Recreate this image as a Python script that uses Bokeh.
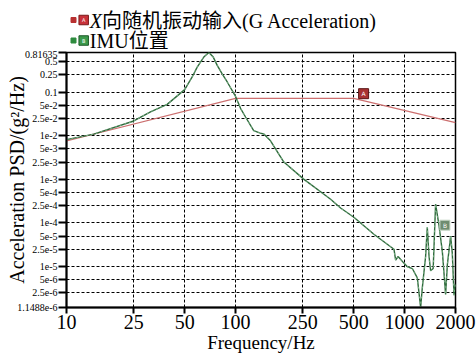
from bokeh.plotting import figure
from bokeh.layouts import column
from bokeh.models import Range1d, FixedTicker, ColumnDataSource
from bokeh.core.properties import value
from bokeh.embed import file_html
from bokeh.resources import INLINE

# ---- data ----
input_freq = [10, 100, 500, 2000]
input_psd = [0.0076, 0.072, 0.072, 0.020]

imu_freq = [10, 14.5, 25, 31.4, 39.4, 50, 55.4, 59.3, 64.9, 69.5, 73.8, 77.9, 83, 89.3, 100,
            107, 114.6, 128, 140, 147, 161, 193, 254, 365, 418, 501, 658, 865, 885,
            915, 990, 1035, 1111, 1189, 1244, 1270, 1331, 1362, 1395, 1425, 1476,
            1525, 1596, 1672, 1748, 1790, 1872, 1915, 1960, 2000]
imu_psd = [0.0082, 0.0109, 0.0219, 0.0356, 0.0527, 0.115, 0.224, 0.378, 0.64, 0.816, 0.64,
           0.413, 0.27, 0.172, 0.08, 0.0427, 0.027, 0.0131, 0.0115, 0.011, 0.0077,
           0.0025, 0.001, 3.5e-4, 2.2e-4, 1.35e-4, 5.5e-5, 2.5e-5, 1.4e-5, 1.7e-5,
           1.2e-5, 1.0e-5, 9e-6, 5.5e-6, 1.15e-6, 3e-6, 1.7e-5, 8e-5, 1.7e-5, 8e-6,
           9e-6, 2.7e-4, 9e-5, 2.2e-5, 2.3e-6, 1.1e-5, 5e-5, 2e-5, 2.2e-6, 4e-6]

marker_freq = [572, 1732]
marker_psd = [0.0927, 8.9e-5]
marker_text = ["A", "B"]
marker_fill = ["#a83232", "#6f8c70"]
marker_line = ["#5a1515", "#c8d8c8"]

x_ticks = [10, 25, 50, 100, 250, 500, 1000, 2000]
y_ticks = [1.1488e-6, 2.5e-6, 5e-6, 1e-5, 2.5e-5, 5e-5, 1e-4, 2.5e-4, 5e-4, 1e-3,
           2.5e-3, 5e-3, 1e-2, 2.5e-2, 5e-2, 0.1, 0.25, 0.5, 0.81635]
y_tick_labels = ["1.1488e-6", "2.5e-6", "5e-6", "1e-5", "2.5e-5", "5e-5", "1e-4",
                 "2.5e-4", "5e-4", "1e-3", "2.5e-3", "5e-3", "1e-2", "2.5e-2", "5e-2",
                 "0.1", "0.25", "0.5", "0.81635"]

legend_prefix = ["X", ""]
legend_names = ["向随机振动输入(G Acceleration)", "IMU位置"]
legend_letters = ["A", "B"]
legend_small = ["#b83030", "#2e8b3e"]
legend_box = ["#c8323a", "#3c9a4c"]
legend_box_line = ["#7a1a1a", "#1e5a28"]

SERIF = "Liberation Serif"
SERIF_CJK = "Liberation Serif, Noto Sans CJK SC"

FRAME_L, FRAME_R = 66, 455   # frame edges in page pixels (shared by both figures)

# ---------------- legend strip (pixel coordinates, y downwards) ----------------
LW, LH = 476, 50
leg = figure(width=LW, height=LH, x_range=Range1d(FRAME_L, FRAME_R), y_range=Range1d(LH, 0),
             x_axis_location=None, y_axis_location=None,
             output_backend="svg", toolbar_location=None,
             min_border_left=FRAME_L, min_border_right=LW - FRAME_R,
             min_border_top=0, min_border_bottom=0)
leg.grid.visible = False
leg.outline_line_color = None
row_y = [19.5, 40]
lsrc = ColumnDataSource(dict(
    xs=[73, 73], xb=[83.2, 83.2], y=row_y, sm=legend_small, bx=legend_box,
    bl=legend_box_line, let=legend_letters))
leg.scatter("xs", "y", source=lsrc, marker="square", size=5, fill_color="sm",
            line_color="sm")
leg.scatter("xb", "y", source=lsrc, marker="square", size=9.5, fill_color="bx",
            line_color="bl", line_width=1)
leg.text("xb", "y", text="let", source=lsrc, text_color="white", text_font_size="5px",
         text_align="center", text_baseline="middle", text_font=value("DejaVu Sans"))
leg.text([89.3], [row_y[0] + 1], text=[legend_prefix[0]], text_font=value(SERIF),
         text_font_style="italic", text_font_size="20px", text_color="black",
         text_align="left", text_baseline="middle")
leg.text([101.5, 89.3], [row_y[0] + 1, row_y[1]], text=legend_names,
         text_font=value(SERIF_CJK), text_font_size="20px", text_color="black",
         text_align="left", text_baseline="middle")

# ---------------- main plot ----------------
p = figure(width=476, height=355 - LH, x_axis_type="log", y_axis_type="log",
           x_range=Range1d(10, 2000), y_range=Range1d(1.1488e-6, 0.81635),
           output_backend="svg", toolbar_location=None,
           min_border_left=FRAME_L, min_border_right=476 - FRAME_R, min_border_top=52 - LH,
           min_border_bottom=46)
p.background_fill_color = "white"
p.outline_line_color = "black"
p.outline_line_width = 1.5

p.xaxis.ticker = FixedTicker(ticks=x_ticks)
p.xaxis.major_label_overrides = {t: str(t) for t in x_ticks}
p.yaxis.ticker = FixedTicker(ticks=y_ticks)
p.yaxis.major_label_overrides = {t: l for t, l in zip(y_ticks, y_tick_labels)}
for ax in (p.xaxis, p.yaxis):
    ax.axis_line_color = "black"
    ax.axis_line_width = 2
    ax.major_tick_line_color = "black"
    ax.major_tick_line_width = 2
    ax.minor_tick_line_color = None
    ax.major_tick_in = 0
    ax.major_label_text_font = SERIF
    ax.major_label_text_color = "black"
    ax.axis_label_text_font = SERIF
    ax.axis_label_text_font_style = "normal"
    ax.axis_label_text_color = "black"
p.xaxis.major_tick_out = 6
p.yaxis.major_tick_out = 8
p.xaxis.major_label_text_font_size = "20px"
p.yaxis.major_label_text_font_size = "10px"
p.xaxis.major_label_standoff = 1
p.yaxis.major_label_standoff = 1
p.xaxis.axis_label = "Frequency/Hz"
p.xaxis.axis_label_text_font_size = "19px"
p.xaxis.axis_label_standoff = 0
p.yaxis.axis_label = "Acceleration PSD/(g²/Hz)"
p.yaxis.axis_label_text_font_size = "20px"
p.yaxis.axis_label_standoff = -14

p.xgrid.ticker = FixedTicker(ticks=x_ticks)
p.ygrid.ticker = FixedTicker(ticks=y_ticks)
for g in (p.xgrid, p.ygrid):
    g.grid_line_color = "black"
    g.grid_line_width = 1
    g.grid_line_dash = "3 2"

p.line(input_freq, input_psd, line_color="#cc6f6f", line_width=1.2)
p.line(imu_freq, imu_psd, line_color="#2f6a3c", line_width=1.4)
p.line(imu_freq, imu_psd, line_color="#8fc49a", line_width=0.8, line_dash="2 3")

msrc = ColumnDataSource(dict(x=marker_freq, y=marker_psd, t=marker_text,
                             f=marker_fill, l=marker_line))
p.scatter("x", "y", source=msrc, marker="square", size=10, fill_color="f",
          line_color="l", line_width=1)
p.text("x", "y", text="t", source=msrc, text_color="white", text_font_size="6px",
       text_align="center", text_baseline="middle", text_font=value("DejaVu Sans"))

layout = column(leg, p, spacing=0)
open("out.html", "w").write(file_html(layout, INLINE))
